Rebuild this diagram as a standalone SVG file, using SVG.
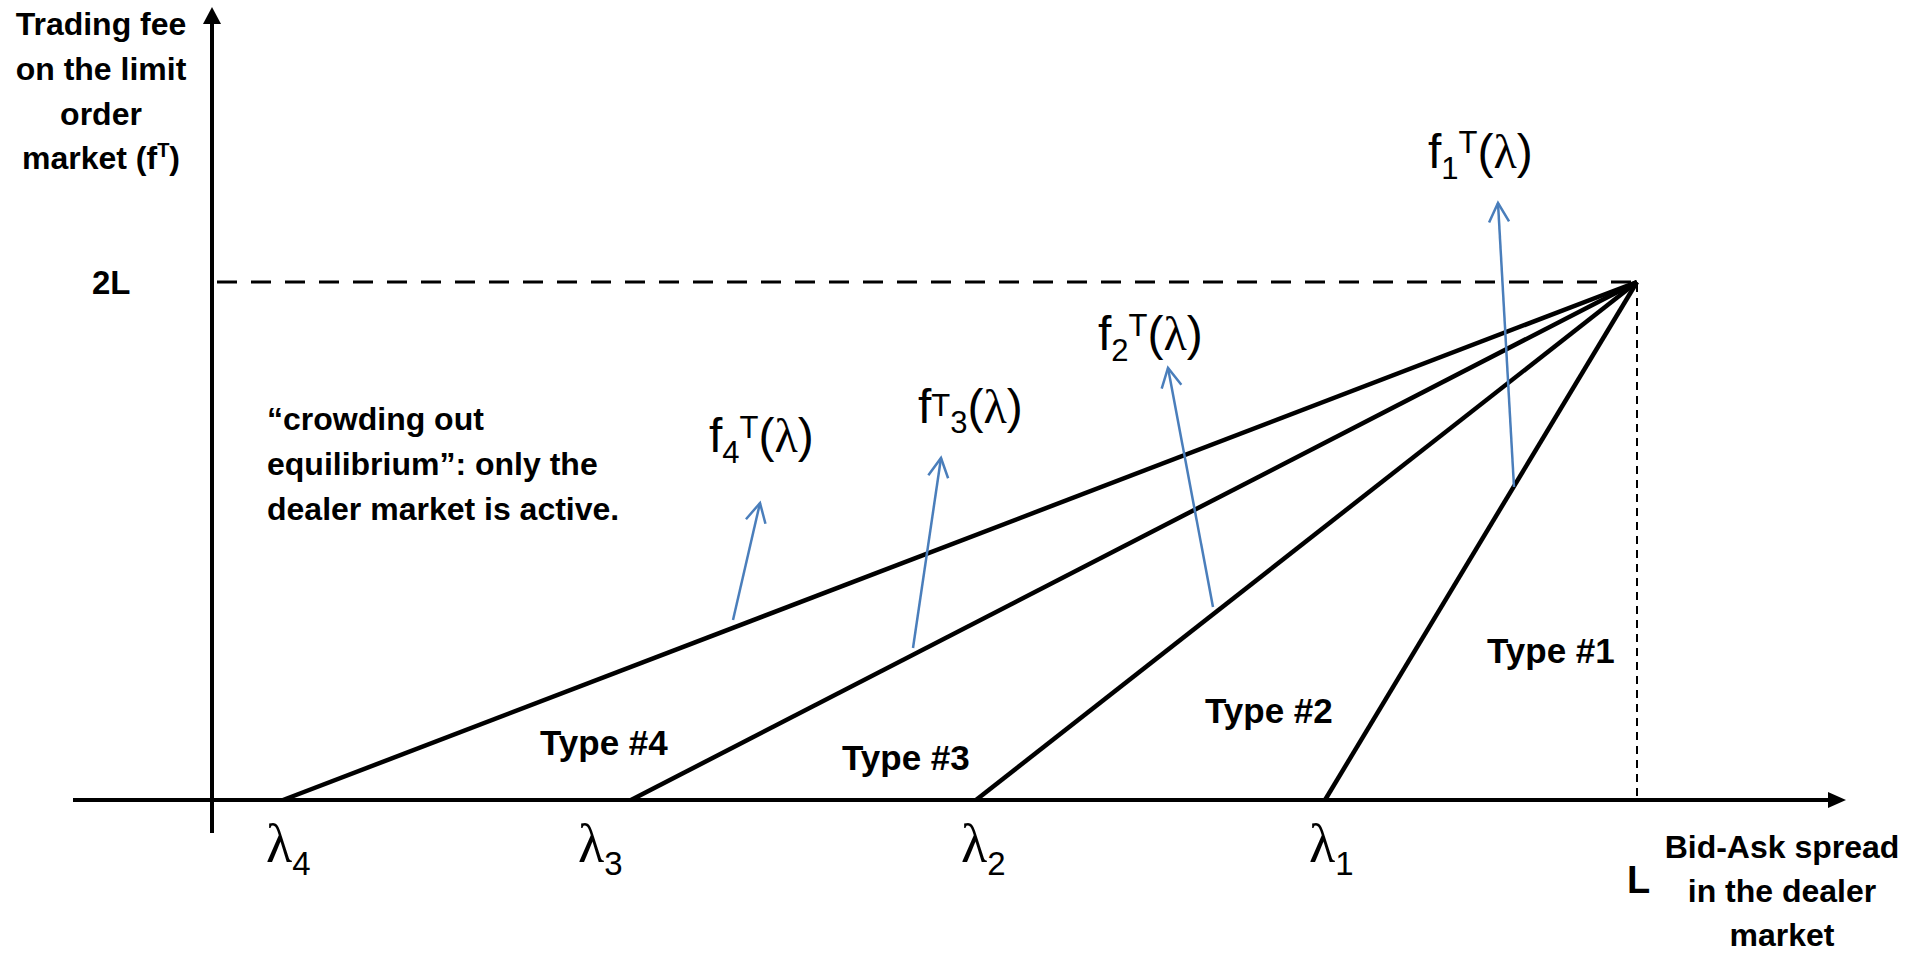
<svg xmlns="http://www.w3.org/2000/svg" width="1919" height="957" viewBox="0 0 1919 957">
<defs>
<style>
.lbl{font-family:"Liberation Sans",Arial,sans-serif;font-weight:bold;font-size:32px;fill:#000}
.typ{font-family:"Liberation Sans",Arial,sans-serif;font-weight:bold;font-size:35px;fill:#000}
.fn{font-family:"Liberation Sans",Arial,sans-serif;font-size:48px;fill:#000}
.lam{font-family:"Liberation Sans",Arial,sans-serif;font-size:54px;fill:#000}
.sm{font-size:31px}
.sub{font-size:33px}
.sup{font-size:20px}
.gr{font-family:"Liberation Serif","Times New Roman",serif}
.ln{stroke:#000;stroke-width:4.5;fill:none}
.blue{stroke:#4a7ebb;stroke-width:2.5;fill:none;marker-end:url(#open)}
</style>
<marker id="open" markerUnits="userSpaceOnUse" viewBox="-22 -12 26 24" refX="0" refY="0" markerWidth="26" markerHeight="24" orient="auto">
<path d="M-19,-10 L0,0 L-19,10" fill="none" stroke="#4a7ebb" stroke-width="2.5"/>
</marker>
</defs>
<rect width="1919" height="957" fill="#fff"/>
<g id="axes">
<line x1="212" y1="22" x2="212" y2="833" stroke="#000" stroke-width="4"/>
<polygon points="212,7 203,24 221,24" fill="#000"/>
<line x1="73" y1="800" x2="1830" y2="800" stroke="#000" stroke-width="4"/>
<polygon points="1846,800 1828,792 1828,808" fill="#000"/>
<line x1="217" y1="282" x2="1637" y2="282" stroke="#000" stroke-width="3" stroke-dasharray="20,14"/>
<line x1="1637" y1="284" x2="1637" y2="798" stroke="#000" stroke-width="2" stroke-dasharray="8,6"/>
</g>
<g id="connectors">
<line class="ln" x1="1637" y1="282" x2="283" y2="800"/>
<line class="ln" x1="1637" y1="282" x2="631" y2="800"/>
<line class="ln" x1="1637" y1="282" x2="976" y2="800"/>
<line class="ln" x1="1637" y1="282" x2="1325" y2="800"/>
<line class="blue" x1="733" y1="620" x2="760" y2="503"/>
<line class="blue" x1="913" y1="648" x2="941" y2="458"/>
<line class="blue" x1="1213" y1="607" x2="1168" y2="368"/>
<line class="blue" x1="1514" y1="487" x2="1498" y2="203"/>
</g>
<g id="y-label">
<text class="lbl" text-anchor="middle"><tspan x="101" y="35">Trading fee</tspan><tspan x="101" y="80">on the limit</tspan><tspan x="101" y="125">order</tspan><tspan x="101" y="169">market (f<tspan class="sup" dy="-12">T</tspan><tspan dy="12">)</tspan></tspan></text>
</g>
<g id="label-2L"><text class="lbl" x="92" y="294" style="font-size:33px">2L</text></g>
<g id="label-L"><text class="lbl" x="1627" y="893" style="font-size:38px">L</text></g>
<g id="x-label">
<text class="lbl" text-anchor="middle"><tspan x="1782" y="858">Bid-Ask spread</tspan><tspan x="1782" y="902">in the dealer</tspan><tspan x="1782" y="946">market</tspan></text>
</g>
<g id="crowding">
<text class="lbl"><tspan x="267" y="430">“crowding out</tspan><tspan x="267" y="475">equilibrium”: only the</tspan><tspan x="267" y="520">dealer market is active.</tspan></text>
</g>
<g id="type4"><text class="typ" x="540" y="755">Type #4</text></g>
<g id="type3"><text class="typ" x="842" y="770">Type #3</text></g>
<g id="type2"><text class="typ" x="1205" y="723">Type #2</text></g>
<g id="type1"><text class="typ" x="1487" y="663">Type #1</text></g>
<g id="f4"><text class="fn" x="709" y="452">f<tspan class="sm" y="463">4</tspan><tspan class="sm" y="438">T</tspan><tspan y="452">(</tspan><tspan class="gr">λ</tspan>)</text></g>
<g id="f3"><text class="fn" x="918" y="423">f<tspan class="sm" y="416">T</tspan><tspan class="sm" y="433">3</tspan><tspan y="423">(</tspan><tspan class="gr">λ</tspan>)</text></g>
<g id="f2"><text class="fn" x="1098" y="350">f<tspan class="sm" y="361">2</tspan><tspan class="sm" y="336">T</tspan><tspan y="350">(</tspan><tspan class="gr">λ</tspan>)</text></g>
<g id="f1"><text class="fn" x="1428" y="168">f<tspan class="sm" y="179">1</tspan><tspan class="sm" y="153">T</tspan><tspan y="168">(</tspan><tspan class="gr">λ</tspan>)</text></g>
<g id="lambdas">
<text class="lam" x="266" y="862"><tspan class="gr">λ</tspan><tspan class="sub" y="875">4</tspan></text>
<text class="lam" x="578" y="862"><tspan class="gr">λ</tspan><tspan class="sub" y="875">3</tspan></text>
<text class="lam" x="961" y="862"><tspan class="gr">λ</tspan><tspan class="sub" y="875">2</tspan></text>
<text class="lam" x="1309" y="862"><tspan class="gr">λ</tspan><tspan class="sub" y="875">1</tspan></text>
</g>
</svg>
